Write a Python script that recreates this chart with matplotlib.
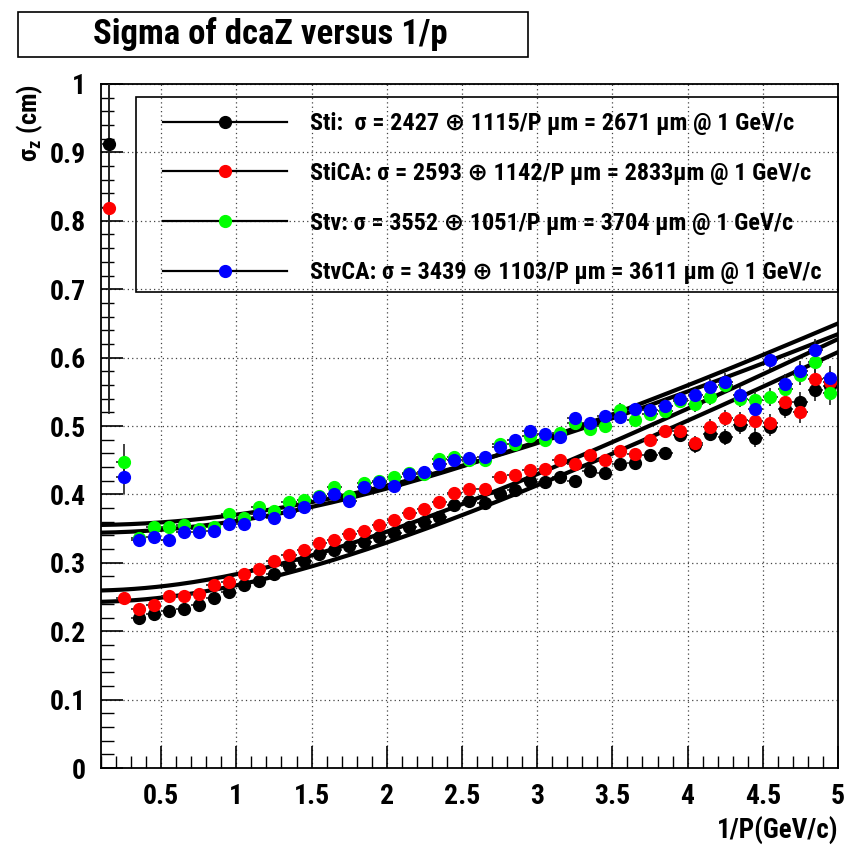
import numpy as np
import matplotlib
matplotlib.use("Agg")
import matplotlib.pyplot as plt
from matplotlib import font_manager as fm
from matplotlib.lines import Line2D
from matplotlib.patches import Rectangle
from matplotlib.ticker import MultipleLocator

# prefer a narrow bold face like ROOT's helvetica-bold output
installed = {f.name for f in fm.fontManager.ttflist}
narrow = [n for n in ['Liberation Sans Narrow', 'Roboto Condensed', 'Open Sans Condensed',
                      'DejaVu Sans Condensed', 'Noto Sans Condensed'] if n in installed]
plt.rcParams['font.family'] = narrow + ['Liberation Sans', 'DejaVu Sans']
plt.rcParams['font.weight'] = 'bold'

# bin centres in 1/p
x = [0.15, 0.25, 0.35, 0.45, 0.55, 0.65, 0.75, 0.85, 0.95, 1.05,
     1.15, 1.25, 1.35, 1.45, 1.55, 1.65, 1.75, 1.85, 1.95, 2.05,
     2.15, 2.25, 2.35, 2.45, 2.55, 2.65, 2.75, 2.85, 2.95, 3.05,
     3.15, 3.25, 3.35, 3.45, 3.55, 3.65, 3.75, 3.85, 3.95, 4.05,
     4.15, 4.25, 4.35, 4.45, 4.55, 4.65, 4.75, 4.85, 4.95]

sti = [0.913, np.nan, 0.220, 0.225, 0.230, 0.233, 0.239, 0.249, 0.258, 0.268,
       0.274, 0.284, 0.296, 0.303, 0.313, 0.318, 0.325, 0.330, 0.337, 0.344,
       0.352, 0.359, 0.367, 0.384, 0.391, 0.387, 0.401, 0.406, 0.420, 0.418,
       0.426, 0.420, 0.434, 0.431, 0.445, 0.446, 0.458, 0.460, 0.487, 0.472,
       0.489, 0.484, 0.501, 0.483, 0.499, 0.525, 0.535, 0.553, 0.559]

stica = [0.818, 0.248, 0.232, 0.239, 0.251, 0.252, 0.255, 0.267, 0.272, 0.284,
         0.291, 0.302, 0.311, 0.319, 0.329, 0.333, 0.342, 0.346, 0.355, 0.363,
         0.373, 0.378, 0.389, 0.402, 0.408, 0.408, 0.425, 0.429, 0.436, 0.437,
         0.451, 0.445, 0.458, 0.450, 0.463, 0.459, 0.479, 0.492, 0.493, 0.475,
         0.499, 0.512, 0.509, 0.507, 0.504, 0.535, 0.520, 0.568, 0.564]

stv = [np.nan, 0.448, 0.336, 0.352, 0.352, 0.355, 0.350, 0.352, 0.372, 0.365,
       0.381, 0.376, 0.389, 0.392, 0.398, 0.411, 0.398, 0.416, 0.420, 0.425,
       0.432, 0.430, 0.452, 0.454, 0.450, 0.450, 0.474, 0.474, 0.485, 0.480,
       0.490, 0.505, 0.496, 0.500, 0.524, 0.509, 0.518, 0.522, 0.536, 0.532,
       0.542, 0.560, 0.540, 0.538, 0.542, 0.554, 0.575, 0.593, 0.548]

stvca = [np.nan, 0.426, 0.334, 0.338, 0.334, 0.345, 0.345, 0.347, 0.356, 0.356,
         0.372, 0.366, 0.374, 0.381, 0.396, 0.401, 0.391, 0.411, 0.418, 0.413,
         0.430, 0.433, 0.445, 0.450, 0.453, 0.454, 0.470, 0.479, 0.492, 0.489,
         0.484, 0.512, 0.504, 0.515, 0.513, 0.525, 0.523, 0.529, 0.539, 0.545,
         0.557, 0.565, 0.545, 0.525, 0.596, 0.562, 0.580, 0.611, 0.570]

# vertical errors (shared), first bins have their own
yerr = [0.0, 0.004, 0.004, 0.004, 0.004, 0.004, 0.004, 0.004, 0.004, 0.005,
        0.005, 0.005, 0.005, 0.005, 0.005, 0.005, 0.005, 0.005, 0.006, 0.006,
        0.006, 0.006, 0.006, 0.006, 0.006, 0.007, 0.007, 0.007, 0.007, 0.008,
        0.008, 0.008, 0.008, 0.008, 0.009, 0.009, 0.009, 0.010, 0.010, 0.011,
        0.011, 0.012, 0.012, 0.013, 0.013, 0.014, 0.015, 0.016, 0.017]
first_err = {'Sti': 0.39, 'StiCA': 0.30, 'Stv': 0.025, 'StvCA': 0.025}

names = ['Sti', 'StiCA', 'Stv', 'StvCA']
colors = ['black', 'red', '#00ff00', 'blue']
series = [sti, stica, stv, stvca]
# fit parameters in um: sigma = a (+) b/P
fit_a = [2427, 2593, 3552, 3439]
fit_b = [1115, 1142, 1051, 1103]
labels = ['Sti:  \u03c3 = 2427 \u2295 1115/P \u03bcm = 2671 \u03bcm @ 1 GeV/c',
          'StiCA: \u03c3 = 2593 \u2295 1142/P \u03bcm = 2833\u03bcm @ 1 GeV/c',
          'Stv: \u03c3 = 3552 \u2295 1051/P \u03bcm = 3704 \u03bcm @ 1 GeV/c',
          'StvCA: \u03c3 = 3439 \u2295 1103/P \u03bcm = 3611 \u03bcm @ 1 GeV/c']

fig = plt.figure(figsize=(8.49, 8.47), dpi=100)
ax = fig.add_axes([101/849, 1-768/847, 737/849, 684/847])

xf = np.linspace(0.1, 5.0, 200)
handles = []
for name, c, y, a, b in zip(names, colors, series, fit_a, fit_b):
    err = list(yerr)
    i0 = 0 if name in ('Sti', 'StiCA') else 1
    err[i0] = first_err[name]
    ax.errorbar(x, y, yerr=err, xerr=0.05, fmt='o', ms=8.5, mfc=c, mec=c,
                ecolor='#222222', elinewidth=1.2, capsize=0, zorder=3)
    sig = np.sqrt((a*1e-4)**2 + (b*1e-4*xf)**2)
    ax.plot(xf, sig, color='black', lw=3.0, zorder=3)
    handles.append(Line2D([0], [0], color='black', lw=1.6, marker='o', ms=8.5, mfc=c, mec=c))

ax.set_xlim(0.1, 5.0)
ax.set_ylim(0, 1)
ax.xaxis.set_minor_locator(MultipleLocator(0.1))
ax.yaxis.set_minor_locator(MultipleLocator(0.02))
ax.set_xticks([0.5, 1, 1.5, 2, 2.5, 3, 3.5, 4, 4.5, 5])
ax.set_xticklabels(['0.5', '1', '1.5', '2', '2.5', '3', '3.5', '4', '4.5', '5'])
ax.set_yticks([0, 0.1, 0.2, 0.3, 0.4, 0.5, 0.6, 0.7, 0.8, 0.9, 1])
ax.set_yticklabels(['0', '0.1', '0.2', '0.3', '0.4', '0.5', '0.6', '0.7', '0.8', '0.9', '1'])
ax.tick_params(which='major', direction='in', length=16, width=1.2, labelsize=20, pad=11)
ax.tick_params(which='minor', direction='in', length=9, width=1.0)
for sp in ax.spines.values():
    sp.set_linewidth(1.3)
ax.grid(True, which='major', color='#444444', lw=0.9, linestyle=(0, (1, 2.5)))
ax.set_axisbelow(True)

# legend frame drawn separately so the entries can sit with ROOT-like padding
ax.add_patch(Rectangle((0.0475, 0.696), 0.9525, 0.285, transform=ax.transAxes,
                       fill=False, ec='black', lw=1.2, zorder=5, clip_on=False))
ax.legend(handles, labels, loc='upper left', bbox_to_anchor=(0.0841, 0.959),
          borderaxespad=0, borderpad=0, fontsize=17.5, handlelength=5.1, handletextpad=0.95,
          labelspacing=1.1, frameon=False)

ax.text(1.0, -0.092, '1/P(GeV/c)', transform=ax.transAxes, ha='right', va='center', fontsize=19.5)
ax.text(-0.097, 1.0, '\u03c3$_{\\mathregular{z}}$ (cm)', transform=ax.transAxes, ha='center',
        va='top', rotation=90, fontsize=19)

fig.patches.append(Rectangle((18/849, 1-57/847), 510/849, 45/847, transform=fig.transFigure,
                             fill=True, fc='white', ec='black', lw=1.2))
fig.text(270/849, 1-34/847, 'Sigma of dcaZ versus 1/p', ha='center', va='center', fontsize=25)

fig.savefig('out.png', dpi=100)
